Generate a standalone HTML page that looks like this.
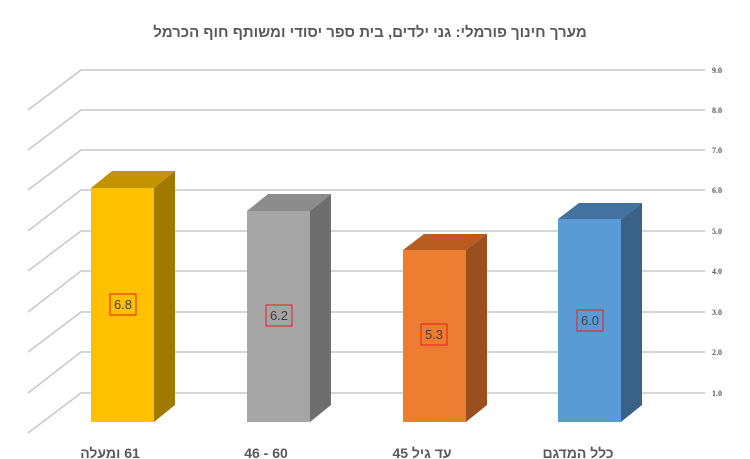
<!DOCTYPE html>
<html><head><meta charset="utf-8"><style>
body{margin:0;background:#fff}
svg{display:block}
</style></head><body>
<svg width="750" height="459" xmlns="http://www.w3.org/2000/svg" font-family="Liberation Sans, DejaVu Sans, sans-serif">
<rect width="750" height="459" fill="#fff"/>
<text x="370" y="37" text-anchor="middle" font-size="15" font-weight="bold" fill="#595959" direction="rtl">מערך חינוך פורמלי: גני ילדים, בית ספר יסודי ומשותף חוף הכרמל</text>
<g stroke="#c8c8c8" stroke-width="1.5" fill="none">
<polyline points="28,110 81,70 705,70"/>
<polyline points="28,150 81,110 705,110"/>
<polyline points="28,190 81,150 705,150"/>
<polyline points="28,231 81,190 705,190"/>
<polyline points="28,271 81,231 705,231"/>
<polyline points="28,312 81,271 705,271"/>
<polyline points="28,352 81,312 705,312"/>
<polyline points="28,393 81,352 705,352"/>
<polyline points="28,433 81,393 705,393"/>
</g>
<g font-size="8" font-weight="bold" fill="#595959" font-family="Liberation Serif, serif">
<text x="712" y="73">9.0</text><text x="712" y="113">8.0</text><text x="712" y="153">7.0</text>
<text x="712" y="193">6.0</text><text x="712" y="234">5.0</text><text x="712" y="274">4.0</text>
<text x="712" y="315">3.0</text><text x="712" y="355">2.0</text><text x="712" y="396">1.0</text>
</g>
<!-- yellow -->
<polygon points="91,188 112,171 175,171 154,188" fill="#c49400"/>
<polygon points="154,188 175,171 175,405 154,422" fill="#a07a00"/>
<rect x="91" y="188" width="63" height="234" fill="#ffc000"/>
<!-- gray -->
<polygon points="247,211 268,194 331,194 310,211" fill="#8c8c8c"/>
<polygon points="310,211 331,194 331,405 310,422" fill="#6e6e6e"/>
<rect x="247" y="211" width="63" height="211" fill="#a5a5a5"/>
<!-- orange -->
<polygon points="403,250 424,234 487,234 466,250" fill="#b85c20"/>
<polygon points="466,250 487,234 487,405 466,422" fill="#9a4f1e"/>
<rect x="403" y="250" width="63" height="172" fill="#ed7d31"/>
<!-- blue -->
<polygon points="558,219 579,203 642,203 621,219" fill="#4472a0"/>
<polygon points="621,219 642,203 642,405 621,422" fill="#3a6288"/>
<rect x="558" y="219" width="63" height="203" fill="#5b9bd5"/>
<g font-size="13" fill="#404040" text-anchor="middle">
<rect x="110" y="294" width="26" height="21" fill="none" stroke="#e02020"/><text x="123" y="309">6.8</text>
<rect x="266" y="305" width="26" height="21" fill="none" stroke="#e02020"/><text x="279" y="320">6.2</text>
<rect x="421" y="324" width="26" height="21" fill="none" stroke="#e02020"/><text x="434" y="339">5.3</text>
<rect x="577" y="310" width="26" height="21" fill="none" stroke="#e02020"/><text x="590" y="325">6.0</text>
</g>
<g font-size="14" font-weight="bold" fill="#595959" text-anchor="middle">
<text x="110" y="458" direction="rtl">61 ומעלה</text>
<text x="266" y="458">46 - 60</text>
<text x="422" y="458" direction="rtl">עד גיל 45</text>
<text x="578" y="458" direction="rtl">כלל המדגם</text>
</g>
</svg>
</body></html>
